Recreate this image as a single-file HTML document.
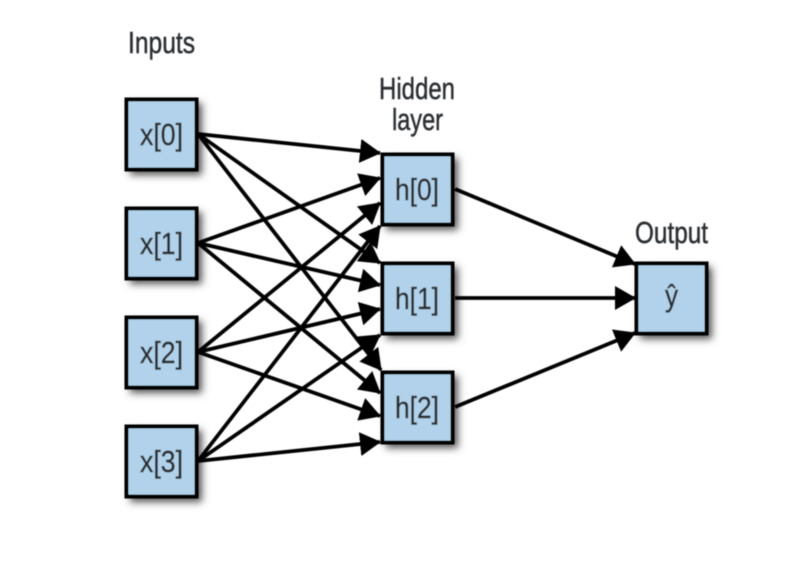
<!DOCTYPE html>
<html><head><meta charset="utf-8"><style>
html,body{margin:0;padding:0;background:#fff;width:792px;height:564px;overflow:hidden}
svg{display:block}
text{font-family:"Liberation Sans",sans-serif;font-size:31px;fill:#2a2e31;stroke:#2a2e31;stroke-width:0.45px}
</style></head><body>
<svg width="792" height="564" viewBox="0 0 792 564" xmlns="http://www.w3.org/2000/svg">
<defs>
<filter id="b" x="-5%" y="-5%" width="110%" height="110%"><feGaussianBlur stdDeviation="0.65"/></filter>
<filter id="s" x="-30%" y="-30%" width="160%" height="160%"><feGaussianBlur stdDeviation="4"/></filter>
<marker id="a" markerUnits="userSpaceOnUse" markerWidth="26" markerHeight="26" refX="20" refY="12" orient="auto"><path d="M0 0L21 12L0 24z" fill="#000"/></marker>
</defs>
<g fill="#555" filter="url(#s)">
<rect x="130" y="103" width="72" height="72"/><rect x="130" y="212" width="72" height="72"/><rect x="130" y="321" width="72" height="72"/><rect x="130" y="430" width="72" height="72"/>
<rect x="386" y="158" width="72" height="72"/><rect x="386" y="267" width="72" height="72"/><rect x="386" y="376" width="72" height="72"/>
<rect x="640" y="267" width="72" height="72"/>
</g>
<g filter="url(#b)">
<g fill="#b1d2ea" stroke="#000" stroke-width="4">
<rect x="126.500" y="99.500" width="70" height="70"/><rect x="126.500" y="208.500" width="70" height="70"/><rect x="126.500" y="317.500" width="70" height="70"/><rect x="126.500" y="426.500" width="70" height="70"/>
<rect x="382.500" y="154.500" width="70" height="70"/><rect x="382.500" y="263.500" width="70" height="70"/><rect x="382.500" y="372.500" width="70" height="70"/>
<rect x="636.500" y="263.500" width="70" height="70"/>
</g>
<g stroke="#000" stroke-width="3.8" fill="none">
<line x1="198" y1="134" x2="380" y2="153" marker-end="url(#a)"/>
<line x1="198" y1="134" x2="380" y2="263" marker-end="url(#a)"/>
<line x1="198" y1="134" x2="381" y2="370" marker-end="url(#a)"/>
<line x1="198" y1="243" x2="380" y2="178" marker-end="url(#a)"/>
<line x1="198" y1="243" x2="380" y2="285" marker-end="url(#a)"/>
<line x1="198" y1="243" x2="380" y2="393" marker-end="url(#a)"/>
<line x1="198" y1="352" x2="380" y2="203" marker-end="url(#a)"/>
<line x1="198" y1="352" x2="380" y2="309" marker-end="url(#a)"/>
<line x1="198" y1="352" x2="380" y2="416" marker-end="url(#a)"/>
<line x1="198" y1="461" x2="380" y2="226" marker-end="url(#a)"/>
<line x1="198" y1="461" x2="380" y2="335" marker-end="url(#a)"/>
<line x1="198" y1="461" x2="380" y2="442" marker-end="url(#a)"/>
<line x1="455" y1="189" x2="635" y2="264" marker-end="url(#a)"/>
<line x1="455" y1="298" x2="635" y2="298" marker-end="url(#a)"/>
<line x1="455" y1="407" x2="635" y2="333" marker-end="url(#a)"/>
</g>
<text x="128" y="53" textLength="67" lengthAdjust="spacingAndGlyphs">Inputs</text>
<text x="379" y="99" textLength="76" lengthAdjust="spacingAndGlyphs">Hidden</text>
<text x="392" y="130" textLength="51" lengthAdjust="spacingAndGlyphs">layer</text>
<text x="635" y="243" textLength="73" lengthAdjust="spacingAndGlyphs">Output</text>
<text x="140" y="145" textLength="43" lengthAdjust="spacingAndGlyphs">x[0]</text>
<text x="140" y="254" textLength="43" lengthAdjust="spacingAndGlyphs">x[1]</text>
<text x="140" y="363" textLength="43" lengthAdjust="spacingAndGlyphs">x[2]</text>
<text x="140" y="472" textLength="43" lengthAdjust="spacingAndGlyphs">x[3]</text>
<text x="395" y="200" textLength="44" lengthAdjust="spacingAndGlyphs">h[0]</text>
<text x="395" y="309" textLength="44" lengthAdjust="spacingAndGlyphs">h[1]</text>
<text x="395" y="418" textLength="44" lengthAdjust="spacingAndGlyphs">h[2]</text>
<text x="665" y="306" textLength="13" lengthAdjust="spacingAndGlyphs">ŷ</text>
</g>
</svg>
</body></html>
